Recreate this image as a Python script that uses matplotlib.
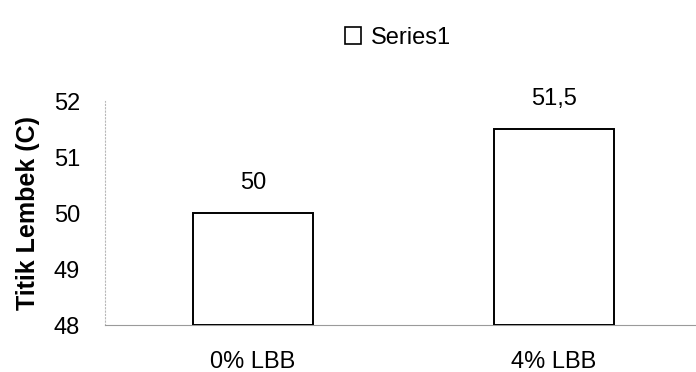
import matplotlib
matplotlib.use("Agg")
import matplotlib.pyplot as plt
from matplotlib.patches import Patch

categories = ["0% LBB", "4% LBB"]
values = [50.0, 51.5]
value_labels = ["50", "51,5"]
series_name = "Series1"
y_ticks = [48, 49, 50, 51, 52]

plt.rcParams["font.family"] = ["Liberation Sans", "DejaVu Sans"]

fig = plt.figure(figsize=(6.96, 3.72), dpi=100)
ax = fig.add_axes([105 / 696, 1 - 325 / 372, 591 / 696, (325 - 101) / 372])

x = list(range(len(categories)))
ax.bar(x, [v - 48 for v in values], bottom=48, width=0.4,
       color="white", edgecolor="black", linewidth=1.4, zorder=3)

for xi, v, lab in zip(x, values, value_labels):
    ax.annotate(lab, (xi, v), xytext=(0, 14), textcoords="offset points",
                ha="center", va="bottom", fontsize=17)

ax.set_xlim(-0.492, 1.472)
ax.set_ylim(48, 52)
ax.set_yticks(y_ticks)
ax.set_yticklabels([str(t) for t in y_ticks], fontsize=17)
ax.set_xticks(x)
ax.set_xticklabels(categories, fontsize=17)
ax.tick_params(axis="both", length=0)
ax.tick_params(axis="y", pad=18)
ax.tick_params(axis="x", pad=19)

ax.set_ylabel("Titik Lembek (C)", fontsize=18, fontweight="bold", labelpad=10)

for s in ["top", "right"]:
    ax.spines[s].set_visible(False)
ax.spines["left"].set_color("#b8b8b8")
ax.spines["left"].set_linestyle((0, (1, 2)))
ax.spines["left"].set_linewidth(0.8)
ax.spines["bottom"].set_color("#9a9a9a")
ax.spines["bottom"].set_linewidth(0.8)

handle = Patch(facecolor="white", edgecolor="black", linewidth=1.2, label=series_name)
fig.legend(handles=[handle], loc="center", bbox_to_anchor=(398 / 696, 1 - 38 / 372),
           frameon=False, fontsize=17, handlelength=0.7, handleheight=0.7,
           handletextpad=0.4)

fig.savefig("out.png", dpi=100)
